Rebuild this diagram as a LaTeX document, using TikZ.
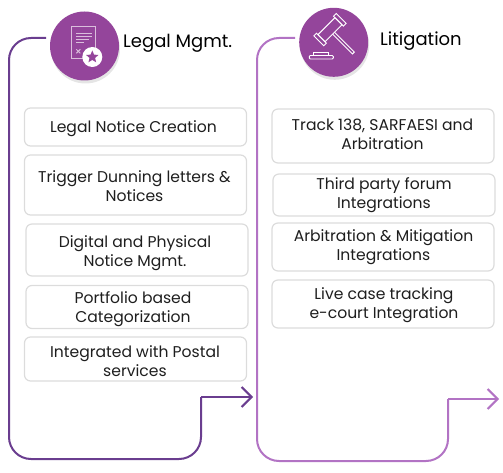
\documentclass[tikz,border=0pt]{standalone}
\usepackage{fontspec}
\setmainfont{Poppins}
\usepackage{xcolor}
\usetikzlibrary{arrows.meta,calc,positioning,shadows,shapes.geometric}
\definecolor{Plum}{HTML}{94459B}
\definecolor{DarkLine}{HTML}{6A3D8F}
\definecolor{LightLine}{HTML}{B273C4}
\definecolor{BoxEdge}{HTML}{DCDCDC}
\definecolor{Ink}{HTML}{1E1E1E}
\tikzset{
  itembox/.style={draw=BoxEdge,line width=1.2pt,rounded corners=6pt,inner sep=0pt,minimum width=222pt},
  itemtext/.style={align=center,text=Ink,font=\fontsize{15.6}{18.6}\selectfont,inner sep=0pt},
  headcircle/.style={circle,fill=Plum,minimum size=69pt,inner sep=0pt,
    drop shadow={shadow xshift=1pt,shadow yshift=-3pt,opacity=.10,fill=black}},
  headlabel/.style={font=\fontsize{18}{21}\selectfont,text=black,inner sep=0pt},
  flowline/.style={line width=2pt,rounded corners=22pt},
  flowtip/.style={-{Straight Barb[length=10pt,width=20pt,line width=2pt]}},
  iconline/.style={draw=white,line width=.9pt},
  docline/.style={draw=Plum!35!white,line width=1pt}
}
\begin{document}
\begin{tikzpicture}[x=1pt,y=-1pt]
  \useasboundingbox (0,0) rectangle (503,473);

  % connectors
  \coordinate (legalstart) at (46,38);
  \coordinate (legalend) at (253,397);
  \coordinate (litstart) at (295,38);
  \coordinate (litend) at (499,399);
  \draw[flowline,DarkLine] (legalstart) -- (9,38) -- (9,459) -- (201,459) -- (201,397);
  \draw[DarkLine,line width=2pt,flowtip] (201,397) -- (legalend);
  \draw[flowline,LightLine] (litstart) -- (257,38) -- (257,461) -- (448,461) -- (448,399);
  \draw[LightLine,line width=2pt,flowtip] (448,399) -- (litend);

  % heads
  \node[headcircle] (legal) at (84.5,46) {};
  \node[headcircle] (lit) at (333.7,42.3) {};
  \node[headlabel,anchor=west] (legaltitle) at (123,43) {Legal Mgmt.};
  \node[headlabel,anchor=west] (littitle) at (380,41) {Litigation};

  % document icon
  \draw[docline] (71.7,27) rectangle (95.7,58.7);
  \foreach \yy/\xx in {33.7/92.3,37/92.3,40/89.3,43/84.3}
    \draw[docline] (76,\yy) -- (\xx,\yy);
  \draw[docline] (76.3,49.3) -- (80.3,53.3) (80.3,49.3) -- (76.3,53.3);
  \node[circle,fill=white,minimum size=20pt,inner sep=0pt] (badge) at (92.3,57) {};
  \node[star,star points=5,star point ratio=2.2,fill=Plum,minimum size=13pt,inner sep=0pt] (badgestar) at (badge) {};

  % gavel icon
  \begin{scope}[shift={(330,29.7)},rotate=-45]
    \draw[iconline] (-5,-12) rectangle (5,12);
    \draw[iconline] (-7,-15.8) rectangle (7,-12);
    \draw[iconline] (-7,12) rectangle (7,15.8);
    \draw[iconline] (5,-1.3) -- (33,-1.3) -- (33,1.3) -- (5,1.3);
  \end{scope}
  \draw[iconline] (313.3,55.5) -- (313.3,52.3) -- (328.3,52.3) -- (328.3,55.5);
  \draw[iconline,rounded corners=1pt] (309.3,55.5) rectangle (333.3,59);

  % left column
  \node[itembox,minimum height=38pt] (notice) at (135.5,127) {};
  \node[itemtext] (noticetext) at (133.5,129) {Legal Notice Creation};
  \node[itembox,minimum height=60pt] (dunning) at (135.5,185) {};
  \node[itemtext] (dunningtext) at (134.5,186) {Trigger Dunning letters \&\\Notices};
  \node[itembox,minimum height=52pt] (digital) at (137,250) {};
  \node[itemtext] (digitaltext) at (135,253) {Digital and Physical\\Notice Mgmt.};
  \node[itembox,minimum height=43pt] (portfolio) at (137,307) {};
  \node[itemtext] (portfoliotext) at (133,309) {Portfolio based\\Categorization};
  \node[itembox,minimum height=44pt] (postal) at (135.5,359) {};
  \node[itemtext] (postaltext) at (135,361) {Integrated with Postal\\services};

  % right column
  \node[itembox,minimum height=54pt] (track) at (383,136) {};
  \node[itemtext] (tracktext) at (382.5,134.5) {Track 138, SARFAESI and\\Arbitration};
  \node[itembox,minimum height=42pt] (forum) at (384,195) {};
  \node[itemtext] (forumtext) at (384,195) {Third party forum\\Integrations};
  \node[itembox,minimum height=48pt] (arbitration) at (383,247) {};
  \node[itemtext] (arbitrationtext) at (383.5,247) {Arbitration \& Mitigation\\Integrations};
  \node[itembox,minimum height=48pt] (live) at (383,304) {};
  \node[itemtext] (livetext) at (384,305) {Live case tracking\\e-court Integration};
\end{tikzpicture}
\end{document}
